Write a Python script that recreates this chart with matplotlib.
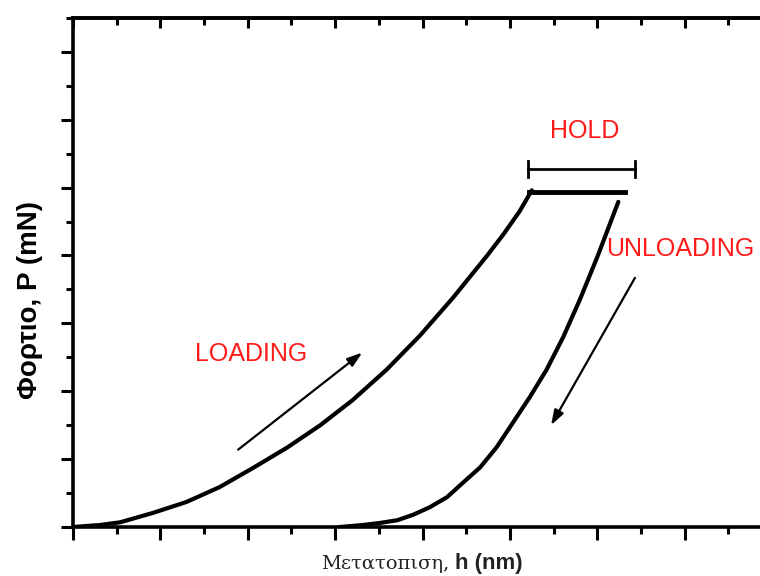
import numpy as np
import matplotlib
matplotlib.use('Agg')
import matplotlib.pyplot as plt
from matplotlib.ticker import MultipleLocator

# load - displacement readings (axis units, 1 major tick = 1)
load_h = [0.0, 0.31, 0.54, 0.92, 1.30, 1.68, 2.06, 2.45, 2.83, 3.20, 3.59, 3.97,
          4.35, 4.74, 4.93, 5.11, 5.25]
load_p = [0.0, 0.03, 0.07, 0.21, 0.37, 0.59, 0.87, 1.17, 1.50, 1.87, 2.32, 2.82,
          3.38, 4.00, 4.32, 4.65, 4.96]

hold_h = [5.22, 6.32]
hold_p = [4.93, 4.93]

unload_h = [6.24, 6.00, 5.80, 5.61, 5.42, 5.23, 5.03, 4.85, 4.66, 4.46, 4.28, 4.08,
            3.89, 3.71, 3.51, 3.32, 3.05]
unload_p = [4.79, 3.98, 3.35, 2.80, 2.32, 1.92, 1.53, 1.18, 0.88, 0.65, 0.44, 0.29,
            0.18, 0.10, 0.06, 0.03, 0.0]

# annotation arrows: (start, tip)
load_arrow = [(1.89, 1.14), (3.31, 2.57)]
unload_arrow = [(6.43, 3.67), (5.47, 1.50)]
bracket_h = [5.21, 6.43]
bracket_p = 5.27

fig = plt.figure(figsize=(7.6, 5.76), dpi=100)
ax = fig.add_axes([0.096, 0.085, 0.92, 0.884])
ax.set_xlim(0, 8)
ax.set_ylim(0, 7.5)

ax.plot(load_h, load_p, color='black', lw=3, solid_capstyle='round', solid_joinstyle='round')
ax.plot(hold_h, hold_p, color='black', lw=3.5)
ax.plot(unload_h, unload_p, color='black', lw=3, solid_capstyle='round', solid_joinstyle='round')

# hold bracket
ax.plot(bracket_h, [bracket_p, bracket_p], color='black', lw=2)
for b in bracket_h:
    ax.plot([b, b], [bracket_p - 0.12, bracket_p + 0.12], color='black', lw=2)

for (s, t) in [load_arrow, unload_arrow]:
    ax.annotate('', xy=t, xytext=s,
                arrowprops=dict(arrowstyle='-|>,head_length=0.9,head_width=0.3',
                                color='black', lw=1.6, shrinkA=0, shrinkB=0))

red_font = dict(color='#ff1a1a', fontsize=18, family='Liberation Sans',
                ha='center', va='center')
ax.text(5.86, 5.84, 'HOLD', **red_font)
ax.text(6.95, 4.09, 'UNLOADING', **red_font)
ax.text(2.04, 2.55, 'LOADING', **red_font)

for side in ax.spines.values():
    side.set_linewidth(2.6)

ax.xaxis.set_major_locator(MultipleLocator(1))
ax.xaxis.set_minor_locator(MultipleLocator(0.5))
ax.yaxis.set_major_locator(MultipleLocator(1))
ax.yaxis.set_minor_locator(MultipleLocator(0.5))
ax.tick_params(which='major', direction='out', length=9, width=2.2,
               labelbottom=False, labelleft=False)
ax.tick_params(which='minor', direction='out', length=5, width=2.2)

top = ax.secondary_xaxis('top')
top.xaxis.set_major_locator(MultipleLocator(1))
top.xaxis.set_minor_locator(MultipleLocator(0.5))
top.tick_params(which='major', direction='in', length=7, width=2.2, labeltop=False)
top.tick_params(which='minor', direction='in', length=5, width=2.2)
top.spines['top'].set_linewidth(2.6)

right = ax.secondary_yaxis('right')
right.yaxis.set_major_locator(MultipleLocator(1))
right.yaxis.set_minor_locator(MultipleLocator(0.5))
right.tick_params(which='major', direction='in', length=9, width=2.2, labelright=False)
right.tick_params(which='minor', direction='in', length=5, width=2.2)

ax.set_ylabel('Φορτιο, P (mN)', family='Liberation Sans', fontweight='bold', fontsize=20)
ax.yaxis.set_label_coords(-0.043, 0.446)

# x label: greek word in serif, units in bold sans
fig.text(449 / 760, 0.012, 'Μετατοπιση,', family='DejaVu Serif', fontsize=14,
         color='#222222', ha='right', va='baseline')
fig.text(455 / 760, 0.012, 'h (nm)', family='Liberation Sans', fontweight='bold',
         fontsize=16, color='#222222', ha='left', va='baseline')

fig.savefig('out.png', dpi=100)
